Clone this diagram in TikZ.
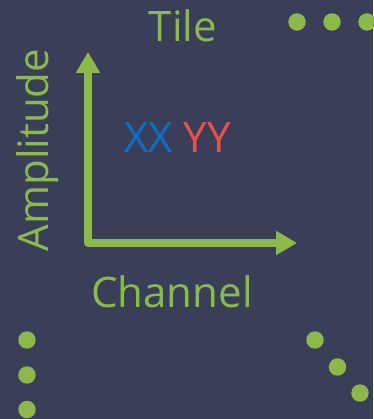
\documentclass[tikz,border=0pt]{standalone}
\usepackage{fontspec}
\setmainfont{Open Sans}
\usetikzlibrary{arrows.meta}
\definecolor{bgslate}{HTML}{3A3F58}
\definecolor{leafgreen}{HTML}{8DB94B}
\definecolor{xxblue}{HTML}{0A70C6}
\definecolor{yyred}{HTML}{E8524A}
\tikzset{
  label text/.style={inner sep=0pt, anchor=base, text=leafgreen,
    font=\fontsize{42}{50}\selectfont},
  ellipsis dot/.style={circle, fill=leafgreen, inner sep=0pt, minimum size=17.4pt},
  axis line/.style={draw=leafgreen, line width=7.5pt, line join=round,
    arrows={Triangle[width=23pt,length=21pt]-Triangle[width=23pt,length=21pt]}}
}
\begin{document}
\begin{tikzpicture}[x=1pt,y=1pt]
  % canvas
  \fill[bgslate] (0,0) rectangle (373,419);
  \useasboundingbox (0,0) rectangle (373,419);

  % titles
  \node[label text] (tile) at (183,377) {Tile};
  \node[label text, rotate=90] (amp) at (48,269) {Amplitude};
  \node[label text] (chan) at (172,111) {Channel};
  \node[label text] (pol) at (177.5,266)
    {\textcolor{xxblue}{XX} \textcolor{yyred}{YY}};

  % axes
  \coordinate (ytip) at (88,367);
  \coordinate (origin) at (88,176);
  \coordinate (xtip) at (297,176);
  \draw[axis line] (ytip) -- (origin) -- (xtip);

  % ellipsis dots
  \node[ellipsis dot] (h1) at (297,397) {};
  \node[ellipsis dot] (h2) at (332,397) {};
  \node[ellipsis dot] (h3) at (367,397) {};
  \node[ellipsis dot] (v1) at (27,79) {};
  \node[ellipsis dot] (v2) at (27,44) {};
  \node[ellipsis dot] (v3) at (27,9.5) {};
  \node[ellipsis dot] (d1) at (315,79) {};
  \node[ellipsis dot] (d2) at (337.5,52) {};
  \node[ellipsis dot] (d3) at (360,26) {};
\end{tikzpicture}
\end{document}
